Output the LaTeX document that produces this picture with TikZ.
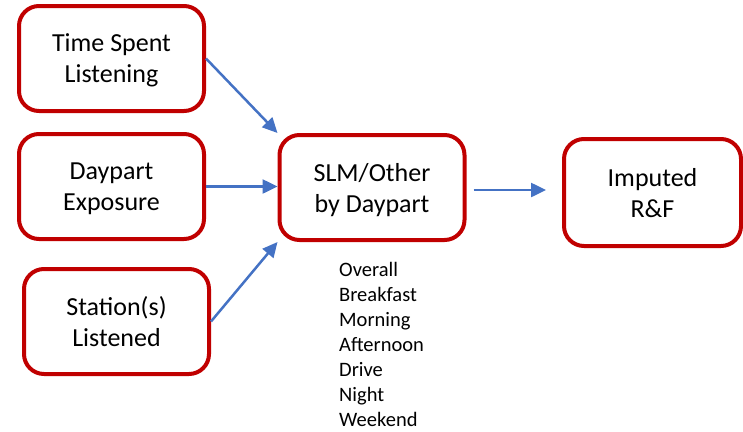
\documentclass[tikz,border=0pt]{standalone}
\usepackage{fontspec}
\setmainfont{Carlito}
\usetikzlibrary{positioning}
\usetikzlibrary{arrows.meta}

\definecolor{boxred}{RGB}{192,0,0}
\definecolor{arrowblue}{RGB}{68,114,196}

\begin{document}
\begin{tikzpicture}[
  x=1pt, y=-1pt,
  inbox/.style={draw=boxred, line width=4pt, rounded corners=20pt, align=center,
    minimum width=185pt, minimum height=105pt, inner sep=0pt, text depth=0pt,
    font=\fontsize{26}{31}\selectfont},
  flow/.style={draw=arrowblue, line width=2.5pt, -{Triangle[length=15pt,width=14pt]}}
]
\useasboundingbox (0,0) rectangle (743,431);

% Left column: the three inputs
\node[inbox] (in1) at (111.5,58.5) {Time Spent\\Listening};
\node[inbox] (in2) at (111.5,186.5) {Daypart\\Exposure};
\node[inbox] (in3) at (116.5,321.5) {Station(s)\\Listened};

% Middle and right boxes
\node[inbox] (mid) at (372,187.5) {SLM/Other\\by Daypart};
\node[inbox, minimum width=177pt, minimum height=107pt] (out) at (652.5,192.5) {Imputed\\R\&F};

% Dayparts under the middle box
\node[anchor=north west, align=left, inner sep=0pt, font=\fontsize{20.5}{25}\selectfont]
  (parts) at (339,262) {Overall\\Breakfast\\Morning\\Afternoon\\Drive\\Night\\Weekend};

% Arrows
\draw[flow] (in1.east) -- (mid.north west);
\draw[flow] (in2.east) -- (in2.east -| mid.west);
\draw[flow] (in3.east) -- (mid.south west);
\draw[flow, shorten <=7pt, shorten >=16pt] ([yshift=-2.5pt]mid.east) -- ([yshift=-2.5pt]mid.east -| out.west);

\end{tikzpicture}
\end{document}
